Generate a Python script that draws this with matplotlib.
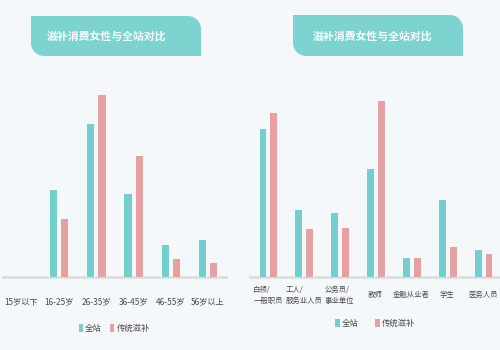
import matplotlib
matplotlib.use("Agg")
import matplotlib.pyplot as plt
import numpy as np
from matplotlib.patches import PathPatch, Patch
from matplotlib.path import Path

plt.rcParams["font.family"] = ["Noto Sans CJK SC", "DejaVu Sans"]

# age groups (share %)
age_labels = ["15岁以下", "16-25岁", "26-35岁", "36-45岁", "46-55岁", "56岁以上"]
age_all = [0.0, 22.2, 38.8, 21.2, 8.3, 9.6]
age_tonic = [0.0, 14.8, 46.1, 30.6, 4.8, 3.8]

# occupation
job_labels = ["白领/\n一般职员", "工人/\n服务业人员", "公务员/\n事业单位", "教师",
              "金融从业者", "学生", "医务人员"]
job_all = [28.8, 13.2, 12.6, 21.1, 3.9, 15.1, 5.4]
job_tonic = [32.0, 9.5, 9.7, 34.2, 3.9, 6.0, 4.7]

series_names = ["全站", "传统滋补"]
title_text = "滋补消费女性与全站对比"

TEAL = "#74cecd"
PINK = "#e7a0a2"
BG = "#f5f8fa"
TXT = "#4a4a4a"

W, H = 500, 350
fig = plt.figure(figsize=(5, 3.5), dpi=100, facecolor=BG)


def px_axes(x0, x1, y_top, y_bot):
    return fig.add_axes([x0 / W, 1 - y_bot / H, (x1 - x0) / W, (y_bot - y_top) / H])


def draw_bars(ax, labels, v1, v2, ytop, label_y, fs):
    x = np.arange(len(labels))
    w = 0.22
    ax.bar(x - 0.15, v1, w, color=TEAL, edgecolor="#ffffff", linewidth=0.6, zorder=3)
    ax.bar(x + 0.15, v2, w, color=PINK, edgecolor="#ffffff", linewidth=0.6, zorder=3)
    ax.set_xlim(-0.5, len(labels) - 0.5)
    ax.set_ylim(0, ytop)
    ax.set_facecolor("none")
    for s in ["top", "right", "left"]:
        ax.spines[s].set_visible(False)
    ax.spines["bottom"].set_color("#dcdcdc")
    ax.spines["bottom"].set_linewidth(2)
    ax.set_yticks([])
    ax.set_xticks(x)
    ax.set_xticklabels(labels, fontsize=fs, color=TXT, va="center",
                       multialignment="left", linespacing=1.5)
    ax.tick_params(axis="x", length=0, pad=label_y)
    handles = [Patch(facecolor=TEAL, edgecolor="none"),
               Patch(facecolor=PINK, edgecolor="none")]
    return handles


ax1 = px_axes(3, 226, 80, 277)
h = draw_bars(ax1, age_labels, age_all, age_tonic, 49.5, 18, 5.9)
ax1.legend(h, series_names, loc="center", bbox_to_anchor=(0.5, -0.26),
           ncol=2, frameon=False, fontsize=6.0, labelcolor=TXT,
           handlelength=0.5, handleheight=1.2, handletextpad=0.3, columnspacing=1.0)

ax2 = px_axes(250, 501, 80, 277)
h = draw_bars(ax2, job_labels, job_all, job_tonic, 38.1, 13, 5.3)
ax2.legend(h, series_names, loc="center", bbox_to_anchor=(0.5, -0.235),
           ncol=2, frameon=False, fontsize=6.0, labelcolor=TXT,
           handlelength=0.5, handleheight=1.2, handletextpad=0.3, columnspacing=2.0)

# title tabs drawn in pixel space
ov = fig.add_axes([0, 0, 1, 1], zorder=10)
ov.set_xlim(0, W)
ov.set_ylim(H, 0)
ov.axis("off")
ov.patch.set_alpha(0)


def tab(x0, x1, y0, y1, r=13):
    k = 0.55 * r
    verts = [(x0, y0), (x1 - r, y0), (x1 - r + k, y0), (x1, y0 + r - k), (x1, y0 + r),
             (x1, y1), (x0 + r, y1), (x0 + r - k, y1), (x0, y1 - r + k), (x0, y1 - r),
             (x0, y0)]
    codes = [Path.MOVETO, Path.LINETO, Path.CURVE4, Path.CURVE4, Path.CURVE4,
             Path.LINETO, Path.LINETO, Path.CURVE4, Path.CURVE4, Path.CURVE4,
             Path.CLOSEPOLY]
    ov.add_patch(PathPatch(Path(verts, codes), facecolor="#7dd3d0", edgecolor="none"))


tab(31, 201, 16, 56)
ov.text(107, 36, title_text, color="white", fontsize=7.8, fontweight="bold",
        ha="center", va="center")
tab(293, 463, 15, 56)
ov.text(373, 36, title_text, color="white", fontsize=7.8, fontweight="bold",
        ha="center", va="center")

fig.savefig("out.png", dpi=100, facecolor=BG)
